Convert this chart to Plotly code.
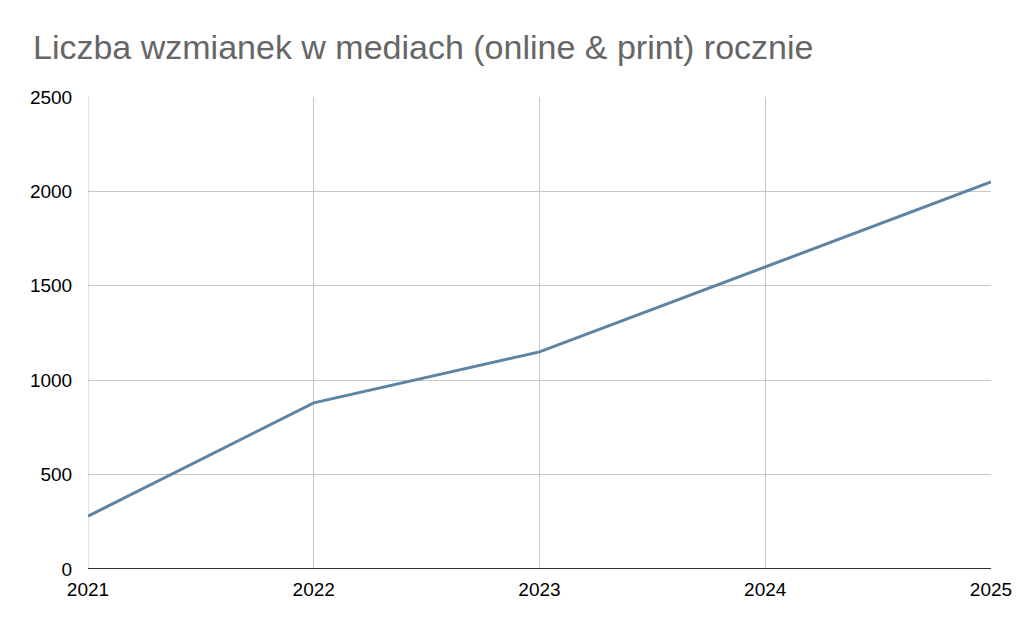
import plotly.graph_objects as go

years = [2021, 2022, 2023, 2024, 2025]
mentions = [280, 880, 1150, 1600, 2050]
y_ticks = [0, 500, 1000, 1500, 2000, 2500]

fig = go.Figure()
fig.add_trace(go.Scatter(
    x=years, y=mentions, mode="lines",
    line=dict(color="#5b84a5", width=3),
    hoverinfo="x+y", showlegend=False,
))

# page has an 8px body margin, so the figure is 1016x625 placed at (8,8)
fig.update_layout(
    width=1016, height=625,
    paper_bgcolor="white", plot_bgcolor="white",
    margin=dict(l=80, r=33, t=89, b=64),
    title=dict(
        text="Liczba wzmianek w mediach (online & print) rocznie",
        x=25/1016, xanchor="left", xref="container",
        y=1 - 39/625, yanchor="middle", yref="container",
        font=dict(family="Liberation Sans, Arial", size=34, color="#666666"),
    ),
    font=dict(family="Liberation Sans, Arial", size=19, color="#000000"),
)
fig.update_xaxes(
    range=[2021, 2025], tickvals=years, ticktext=[str(y) for y in years],
    showgrid=True, gridcolor="#c6c6c6", gridwidth=1,
    showline=False, zeroline=False,
    ticks="outside", ticklen=3, tickcolor="rgba(0,0,0,0)",
    tickfont=dict(size=19, color="#000000"),
)
fig.update_yaxes(
    range=[0, 2500], tickvals=y_ticks,
    showgrid=True, gridcolor="#c6c6c6", gridwidth=1,
    showline=False, zeroline=False,
    ticks="outside", ticklen=11, tickcolor="rgba(0,0,0,0)",
    tickfont=dict(size=19, color="#000000"),
)
fig.add_shape(type="line", xref="paper", yref="y", x0=0, x1=1, y0=0, y1=0,
              line=dict(color="#333333", width=2), layer="above")
fig.add_shape(type="line", xref="x", yref="paper", x0=2021, x1=2021, y0=0, y1=1,
              line=dict(color="#c6c6c6", width=1), layer="below")

fig.write_html("out.html")
